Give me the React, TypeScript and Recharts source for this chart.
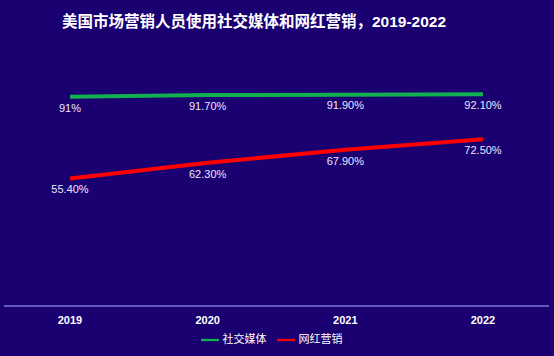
import { LabelList, Legend, Line, LineChart, XAxis, YAxis } from "recharts";

const years = ["2019", "2020", "2021", "2022"];
const socialMedia = [91, 91.7, 91.9, 92.1];
const influencer = [55.4, 62.3, 67.9, 72.5];

const data = years.map((y, i) => ({
  year: y,
  social: socialMedia[i],
  influencer: influencer[i],
}));

const FONT = "'Liberation Sans', Arial, 'Noto Sans CJK SC', sans-serif";
const BG = "#1a0070";

function fmtPct(v: number) {
  return Number.isInteger(v) ? `${v}%` : `${v.toFixed(2)}%`;
}

export default function App() {
  return (
    <div style={{ position: "absolute", left: 0, top: 0, width: 554, height: 356, background: BG, fontFamily: FONT }}>
      <div
        style={{
          position: "absolute",
          left: 0,
          top: 9,
          width: 508,
          textAlign: "center",
          color: "#ffffff",
          fontWeight: "bold",
          fontSize: 15.5,
          fontFamily: "'Liberation Sans', 'Noto Sans CJK SC', sans-serif",
        }}
      >
        美国市场营销人员使用社交媒体和网红营销，2019-2022
      </div>
      <LineChart width={554} height={356} data={data} margin={{ top: 76, right: 5, bottom: 0, left: 4 }}>
        <XAxis
          dataKey="year"
          padding={{ left: 66, right: 66 }}
          height={30}
          tickLine={false}
          axisLine={{ stroke: "#7a74d6", strokeWidth: 1.5 }}
          tick={{ fontSize: 11, fill: "#ffffff", fontWeight: "bold", fontFamily: FONT }}
          tickMargin={4}
        />
        <YAxis hide domain={[0, 100]} />
        <Legend
          height={20}
          iconType="plainline"
          iconSize={18}
          wrapperStyle={{ fontSize: 11, bottom: 6, fontFamily: FONT }}
          formatter={(v: string) => <span style={{ color: "#ffffff" }}>{v}</span>}
        />
        <Line
          dataKey="social"
          name="社交媒体"
          stroke="#12b050"
          strokeWidth={4}
          dot={false}
          isAnimationActive={false}
        >
          <LabelList dataKey="social" position="bottom" offset={7} formatter={fmtPct} fill="#ece8ff" fontSize={11} />
        </Line>
        <Line
          dataKey="influencer"
          name="网红营销"
          stroke="#ff0000"
          strokeWidth={4}
          dot={false}
          isAnimationActive={false}
        >
          <LabelList dataKey="influencer" position="bottom" offset={7} formatter={fmtPct} fill="#ece8ff" fontSize={11} />
        </Line>
      </LineChart>
    </div>
  );
}
